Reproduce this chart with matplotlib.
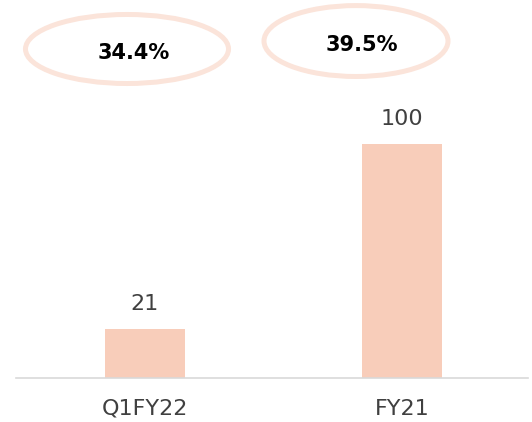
import matplotlib
matplotlib.use("Agg")
import matplotlib.pyplot as plt
from matplotlib.patches import Ellipse

categories = ["Q1FY22", "FY21"]
values = [21, 100]
margins = ["34.4%", "39.5%"]

bar_color = "#F8CDBA"
ring_color = "#FBE4DA"
text_color = "#404040"

fig = plt.figure(figsize=(5.32, 4.22), dpi=100)
ax = fig.add_axes([0, 44/422, 1, 378/422])
x = list(range(len(categories)))
ax.bar(x, values, width=80/257, color=bar_color, zorder=2)
ax.set_xlim(-145/257, 1 + 130/257)
ax.set_ylim(0, 100 * 378 / 234)

for xi, v in zip(x, values):
    ax.annotate(str(v), (xi, v), xytext=(0, 11), textcoords="offset points",
                ha="center", va="bottom", fontsize=16, color=text_color)

# ellipses and margin labels
ell = [(-0.07, 140.6, 0.79, 29.5), (0.821, 144.0, 0.716, 30.3)]
txt = [(-0.043, 139.0), (0.844, 142.4)]
for (cx, cy, w, h), (tx, ty), m in zip(ell, txt, margins):
    ax.add_patch(Ellipse((cx, cy), w, h, fill=False, edgecolor=ring_color,
                         linewidth=3.6, clip_on=False, zorder=3))
    ax.text(tx, ty, m, ha="center", va="center", fontsize=15,
            fontweight="bold", color="black", zorder=4)

ax.set_xticks(x)
ax.set_xticklabels(categories, fontsize=16, color=text_color)
ax.tick_params(axis="x", length=0, pad=15)
ax.set_yticks([])
for s in ["top", "right", "left"]:
    ax.spines[s].set_visible(False)
ax.spines["bottom"].set_color("#D9D9D9")
ax.spines["bottom"].set_linewidth(1.2)
ax.spines["bottom"].set_bounds(-129/257, 1 + 126/257)
ax.patch.set_alpha(0)

fig.savefig("out.png", dpi=100)
